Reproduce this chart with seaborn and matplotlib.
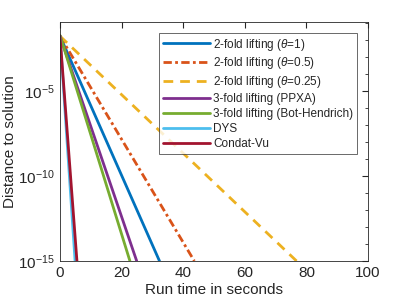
import numpy as np
import pandas as pd
import seaborn as sns
import matplotlib
matplotlib.use("Agg")
import matplotlib.pyplot as plt
from matplotlib.ticker import FixedLocator, LogFormatterSciNotation, NullFormatter

# start / end of each run (straight lines on a log axis)
methods = ["2-fold lifting ($\\theta$=1)", "2-fold lifting ($\\theta$=0.5)",
           "2-fold lifting ($\\theta$=0.25)", "3-fold lifting (PPXA)",
           "3-fold lifting (Bot-Hendrich)", "DYS", "Condat-Vu"]
start_time = [0, 0, 0, 0, 0, 0, 0]
end_time = [32.3, 43.6, 76.8, 24.9, 22.7, 4.9, 5.5]
start_dist = [1.7e-2, 1.7e-2, 1.7e-2, 1.7e-2, 1.9e-2, 1.7e-2, 1.7e-2]
end_dist = [1e-15, 1e-15, 1e-15, 1e-15, 1e-15, 1e-15, 1e-15]

colors = ["#0072BD", "#D95319", "#EDB120", "#7E2F8E", "#77AC30", "#4DBEEE", "#A2142F"]
styles = ["-", (0, (3, 1.2, 1, 1.2)), (0, (3.5, 2.5)), "-", "-", "-", "-"]

rows = []
for m, t0, t1, d0, d1 in zip(methods, start_time, end_time, start_dist, end_dist):
    rows.append({"method": m, "time": t0, "dist": d0})
    rows.append({"method": m, "time": t1, "dist": d1})
df = pd.DataFrame(rows)

sns.set_style("white")
plt.rcParams["font.family"] = ["Liberation Sans", "DejaVu Sans"]
plt.rcParams["mathtext.fontset"] = "custom"
plt.rcParams["mathtext.rm"] = "Liberation Sans"
plt.rcParams["mathtext.it"] = "Liberation Sans:italic"

fig = plt.figure(figsize=(4.07, 3.05), dpi=100)
ax = fig.add_axes([60 / 407, 44 / 305, 308 / 407, 239 / 305])

for m, c, ls in zip(methods, colors, styles):
    sub = df[df.method == m]
    sns.lineplot(data=sub, x="time", y="dist", ax=ax, color=c, linestyle=ls,
                 linewidth=2, label=m)

ax.set_yscale("log")
ax.set_xlim(0, 100)
ax.set_ylim(1e-15, 0.115)
ax.set_xticks([0, 20, 40, 60, 80, 100])
ax.yaxis.set_major_locator(FixedLocator([1e-15, 1e-10, 1e-5]))
ax.yaxis.set_major_formatter(LogFormatterSciNotation())
ax.yaxis.set_minor_locator(FixedLocator([10.0 ** k for k in range(-15, 0)]))
ax.yaxis.set_minor_formatter(NullFormatter())
ax.tick_params(which="both", direction="in", top=True, right=True,
               color="0.15", labelsize=11, labelcolor="0.15")
ax.tick_params(which="major", length=4)
ax.tick_params(which="minor", length=2.5)
ax.tick_params(axis="x", which="minor", top=False, bottom=False)
for s in ax.spines.values():
    s.set_color("0.15")
    s.set_linewidth(0.6)

ax.set_xlabel("Run time in seconds", fontsize=11, color="0.15", labelpad=2)
ax.set_ylabel("Distance to solution", fontsize=11, color="0.15", labelpad=1)

leg = ax.legend(loc="upper left", bbox_to_anchor=(159 / 407, 1 - 33 / 305),
                bbox_transform=fig.transFigure, fontsize=8.5, frameon=True,
                fancybox=False, handlelength=4.0, handletextpad=0.3,
                labelspacing=0.25, borderpad=0.3, borderaxespad=0)
leg.get_frame().set_edgecolor("0.15")
leg.get_frame().set_linewidth(0.6)

fig.savefig("out.png", dpi=100)
